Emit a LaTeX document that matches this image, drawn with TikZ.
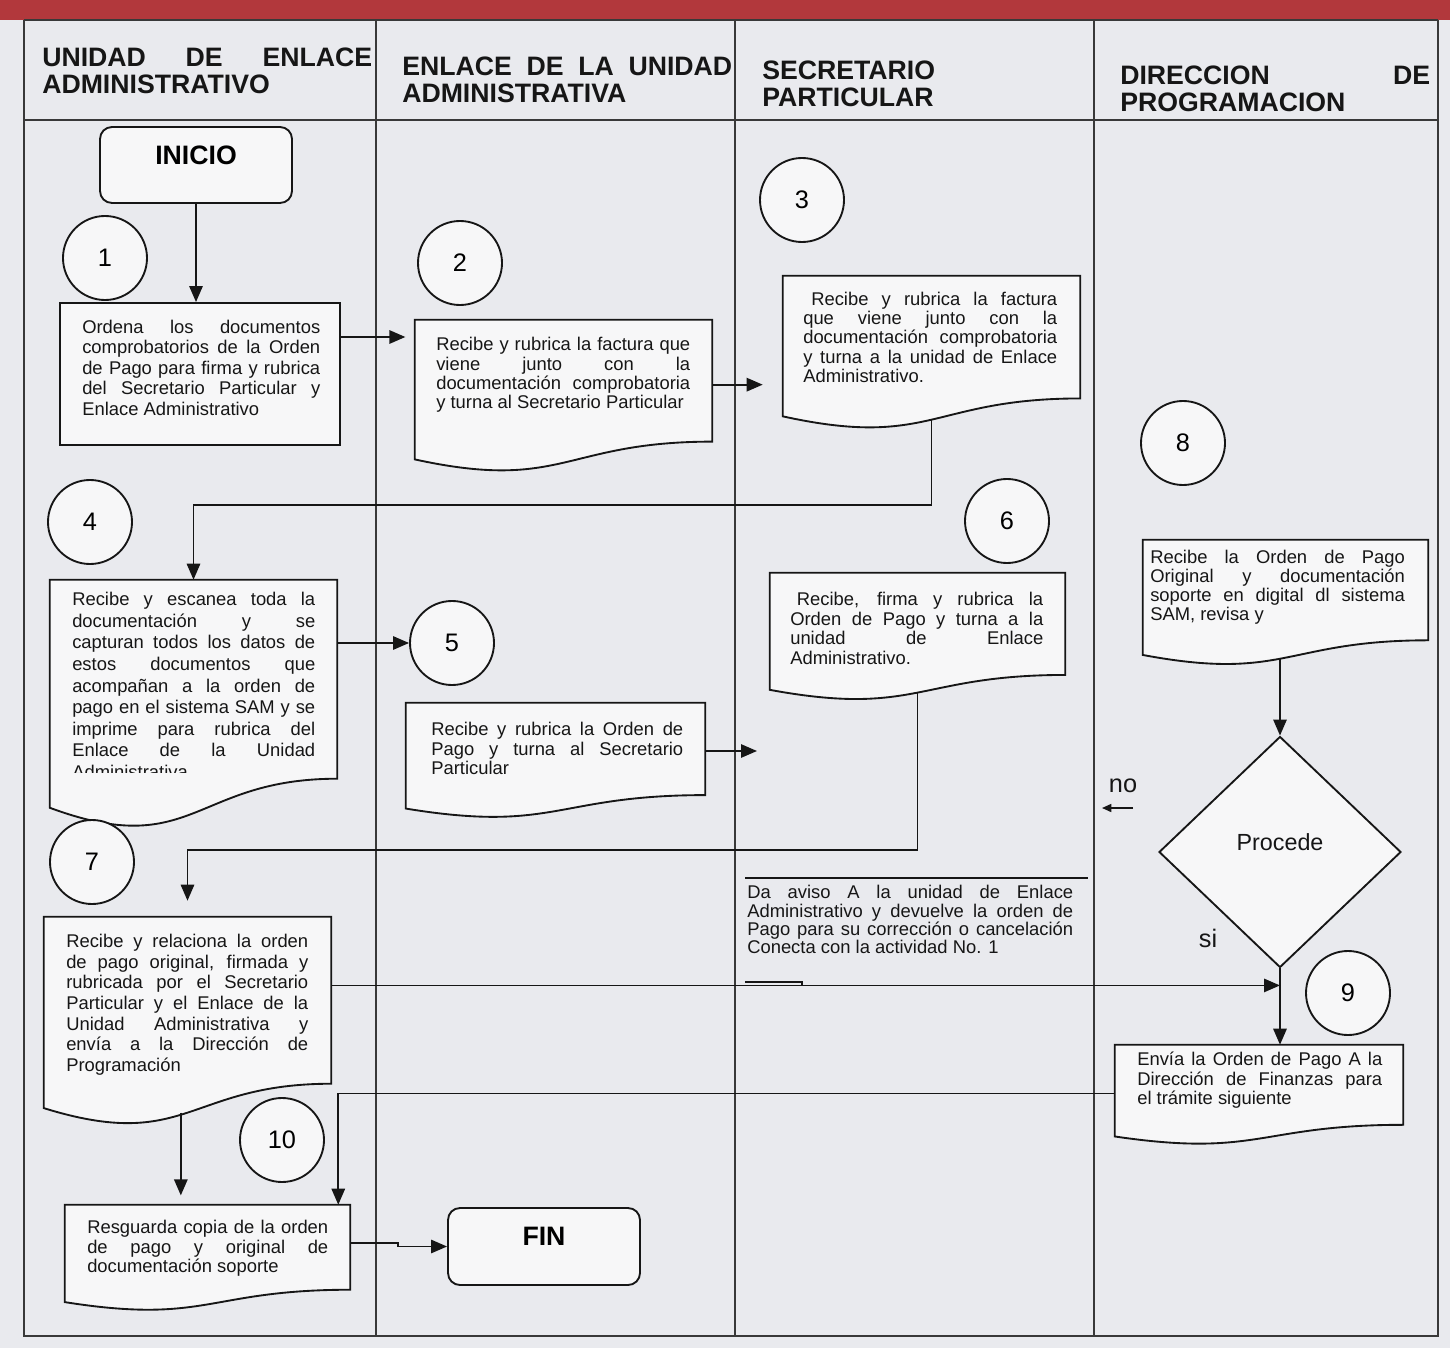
\documentclass[tikz,border=0pt]{standalone}
\usepackage{fontspec}
\setmainfont{Liberation Sans}
\usetikzlibrary{arrows.meta,shapes.geometric,calc}
\tolerance=10000\relax
\hbadness=10000\relax
\hyphenpenalty=10000\relax
\exhyphenpenalty=10000\relax
\pgfdeclarelayer{bgzero}
\pgfdeclarelayer{bgone}
\pgfsetlayers{bgzero,bgone,main}
\definecolor{paper}{RGB}{233,234,238}
\definecolor{boxfill}{RGB}{247,247,248}
\definecolor{bandred}{RGB}{178,56,60}
\definecolor{ink}{RGB}{22,22,22}
\newcommand\docout[2]{%
  \draw[boxo] (#1.north west) -- (#1.north east) -- ([yshift={0.18*#2}]#1.south east)
    .. controls ([yshift={0.18*#2}]#1.south) and ([yshift={-0.16*#2}]#1.south) ..
    ([yshift={0.06*#2}]#1.south west) -- cycle;}
\tikzset{
  laneline/.style={draw=ink!85, line width=1.1pt},
  boxo/.style={draw=ink, line width=1.4pt, fill=boxfill},
  docn/.style={rectangle, inner sep=0pt, draw=none},
  rectn/.style={rectangle, inner sep=0pt, draw=ink, line width=1.4pt, fill=boxfill},
  term/.style={rectangle, rounded corners=9pt, draw=ink, line width=1.4pt, fill=boxfill,
    inner sep=0pt, font=\fontsize{20}{22}\selectfont\bfseries, text depth=15pt},
  numc/.style={circle, draw=ink, line width=1.4pt, fill=boxfill, minimum size=63pt,
    inner sep=0pt, font=\fontsize{19}{22}\selectfont},
  txt/.style={inner sep=0pt, anchor=north west, align=justify, text=ink,
    font=\fontsize{13.8}{#1}\selectfont},
  txt/.default={14.6},
  hdr/.style={inner sep=0pt, anchor=north west, align=justify, text=ink,
    font=\fontsize{20}{20.25}\selectfont\bfseries},
  lab/.style={inner sep=0pt, text=ink, font=\fontsize{19}{22}\selectfont},
  arr/.style={draw=ink, line width=1.4pt, -{Triangle[length=12pt,width=10pt]}},
  plainline/.style={draw=ink, line width=1.4pt},
}
\begin{document}
\begin{tikzpicture}[x=0.75pt,y=-0.75pt]
\useasboundingbox (0,0) rectangle (1450,1348);
\begin{pgfonlayer}{bgzero}
  \fill[paper] (0,0) rectangle (1450,1348);
  \fill[bandred] (0,0) rectangle (1450,20);
  \draw[laneline] (24,20) -- (1438,20);
  \draw[laneline] (24,120) -- (1438,120);
  \draw[laneline] (24,20) -- (24,1336) -- (1438,1336) -- (1438,20);
  \draw[laneline] (376,20) -- (376,1336);
  \draw[laneline] (735,20) -- (735,1336);
  \draw[laneline] (1094,20) -- (1094,1336);
\end{pgfonlayer}

% headers
\node[hdr, text width=247.5pt] (h1) at (42,48) {UNIDAD DE ENLACE\linebreak ADMINISTRATIVO};
\node[hdr, text width=247.5pt] (h2) at (402,57) {ENLACE DE LA UNIDAD\linebreak ADMINISTRATIVA};
\node[hdr, text width=247.5pt] (h3) at (762,61) {SECRETARIO\newline PARTICULAR};
\node[hdr, text width=232.5pt] (h4) at (1120,66) {DIRECCION DE\linebreak PROGRAMACION};

% terminals and circles
\node[term, minimum width=144pt, minimum height=57pt] (ini) at (196,165) {INICIO};
\node[term, minimum width=144pt, minimum height=57.75pt] (fin) at (544,1246.5) {FIN};
\node[numc] (c1) at (105,258) {1};
\node[numc] (c2) at (460,263) {2};
\node[numc] (c3) at (802,200) {3};
\node[numc] (c4) at (90,522) {4};
\node[numc] (c5) at (452,643) {5};
\node[numc] (c6) at (1007,521) {6};
\node[numc] (c7) at (92,862) {7};
\node[numc] (c8) at (1183,443) {8};
\node[numc] (c9) at (1348,993) {9};
\node[numc] (c10) at (282,1140) {10};

% boxes
\node[rectn, minimum width=210pt, minimum height=106.5pt] (b1) at (200,374) {};
\node[docn, minimum width=222.75pt, minimum height=111pt] (b2) at (563.5,394) {};
\node[docn, minimum width=222.75pt, minimum height=111.75pt] (b3) at (931.5,350.5) {};
\node[docn, minimum width=215.25pt, minimum height=181.5pt] (b4) at (193.5,701) {};
\node[docn, minimum width=224.25pt, minimum height=84pt] (b5) at (555.5,759) {};
\node[docn, minimum width=221.25pt, minimum height=93pt] (b6) at (917.5,635) {};
\node[docn, minimum width=215.25pt, minimum height=152.25pt] (b7) at (187.5,1018.5) {};
\node[docn, minimum width=213.75pt, minimum height=91.5pt] (b8) at (1285.5,601) {};
\node[docn, minimum width=216pt, minimum height=72.75pt] (b9) at (1259,1093.5) {};
\node[docn, minimum width=213.75pt, minimum height=77.25pt] (b10) at (207.5,1256.5) {};
\node[shape=diamond, draw=ink, line width=1.4pt, fill=boxfill, minimum width=181.5pt,
  minimum height=173.25pt, inner sep=0pt, text=ink, font=\fontsize{17.5}{20}\selectfont,
  text depth=15pt] (dia) at (1280,852) {Procede};

\begin{pgfonlayer}{bgone}
  \docout{b2}{111}
  \docout{b3}{111.75}
  \docout{b4}{181.5}
  \docout{b5}{84}
  \docout{b6}{93}
  \docout{b7}{152.25}
  \docout{b8}{91.5}
  \docout{b9}{72.75}
  \docout{b10}{77.25}
\end{pgfonlayer}

% texts
\node[txt=15.3, text width=178.5pt] (t1) at (82,320) {Ordena los documentos\linebreak comprobatorios de la Orden\linebreak de Pago para firma y rubrica\linebreak del Secretario Particular y\linebreak Enlace Administrativo};
\node[txt, text width=190.5pt] (t2) at (436,337) {Recibe y rubrica la factura que\linebreak viene junto con la\linebreak documentación comprobatoria\linebreak y turna al Secretario Particular};
\node[txt=14.4, text width=190.5pt] (t3) at (803,292) {\hspace*{6pt}Recibe y rubrica la factura\linebreak que viene junto con la\linebreak documentación comprobatoria\linebreak y turna a la unidad de Enlace\linebreak Administrativo.};
\begin{scope}
  \clip (40,570) rectangle (345,772);
  \node[txt=16.2, text width=182.25pt] (t4) at (72,592) {Recibe y escanea toda la\linebreak documentación y se\linebreak capturan todos los datos de\linebreak estos documentos que\linebreak acompañan a la orden de\linebreak pago en el sistema SAM y se\linebreak imprime para rubrica del\linebreak Enlace de la Unidad\linebreak Administrativa};
\end{scope}
\node[txt, text width=189pt] (t5) at (431,722) {Recibe y rubrica la Orden de\linebreak Pago y turna al Secretario\linebreak Particular};
\node[txt, text width=189.75pt] (t6) at (790,592) {\hspace*{5pt}Recibe, firma y rubrica la\linebreak Orden de Pago y turna a la\linebreak unidad de Enlace\linebreak Administrativo.};
\node[txt=15.5, text width=181.5pt] (t7) at (66,934) {Recibe y relaciona la orden\linebreak de pago original, firmada y\linebreak rubricada por el Secretario\linebreak Particular y el Enlace de la\linebreak Unidad Administrativa y\linebreak envía a la Dirección de\linebreak Programación};
\node[txt=14.3, text width=191pt] (t8) at (1150,550) {Recibe la Orden de Pago\linebreak Original y documentación\linebreak soporte en digital dl sistema\linebreak SAM, revisa y};
\node[txt, text width=183.75pt] (t9) at (1137,1052) {Envía la Orden de Pago A la\linebreak Dirección de Finanzas para\linebreak el trámite siguiente};
\node[txt, text width=180.75pt] (t10) at (87,1220) {Resguarda copia de la orden\linebreak de pago y original de\linebreak documentación soporte};
\node[txt=13.8, text width=244.5pt] (ann) at (747,885) {Da aviso A la unidad de Enlace\linebreak Administrativo y devuelve la orden de\linebreak Pago para su corrección o cancelación\linebreak Conecta con la actividad No. 1};

% annotation lines
\draw[plainline] (745,878) -- (1088,878);
\draw[plainline] (745,982) -- (802,982) -- (802,985);

% labels
\node[lab] (nolab) at (1123,786) {no};
\coordinate (noS) at (1133,808);
\coordinate (noE) at (1102,808);
\draw[draw=ink, line width=1.2pt, -{Triangle[length=7pt,width=6pt]}] (noS) -- (noE);
\node[lab] (silab) at (1208,938) {si};

% connectors
\draw[arr] (ini.south) -- (ini.south |- b1.north);
\draw[arr, shorten >=7pt] ([yshift=27.75pt]b1.east) -- ([yshift=27.75pt]b1.east -| b2.west);
\draw[arr, shorten >=15pt] ([yshift=7pt]b2.east) -- ([yshift=7pt]b2.east -| b3.west);
\coordinate (k34) at (0,505);
\draw[arr] ([yshift=4pt]b3.south) |- (k34 -| b4.north) -- (b4.north);
\draw[arr] (b4.east |- c5.west) -- (c5.west);
\coordinate (e5) at (757,751);
\draw[arr] (b5.east |- e5) -- (e5);
\coordinate (k67) at (0,850);
\draw[arr, shorten >=12pt] ([yshift=3.5pt]b6.south) |- (k67 -| b7.north) -- (b7.north);
\draw[arr] ([yshift=3.4pt]b8.south -| dia.north) -- (dia.north);
\draw[arr] (dia.south) -- (dia.south |- b9.north);
\path (dia.south) ++(0,17) coordinate (j79);
\draw[arr] (b7.east |- j79) -- (j79);
\draw[arr] (b9.west) -| ([xshift=-9pt]b10.north east);
\coordinate (b7d) at ([xshift=-5pt,yshift=5.7pt]b7.south);
\draw[arr, shorten >=7pt] (b7d) -- (b7d |- b10.north);
\draw[arr] ([yshift=10pt]b10.east) -- ++(48,0) |- (fin.west);
\end{tikzpicture}
\end{document}
